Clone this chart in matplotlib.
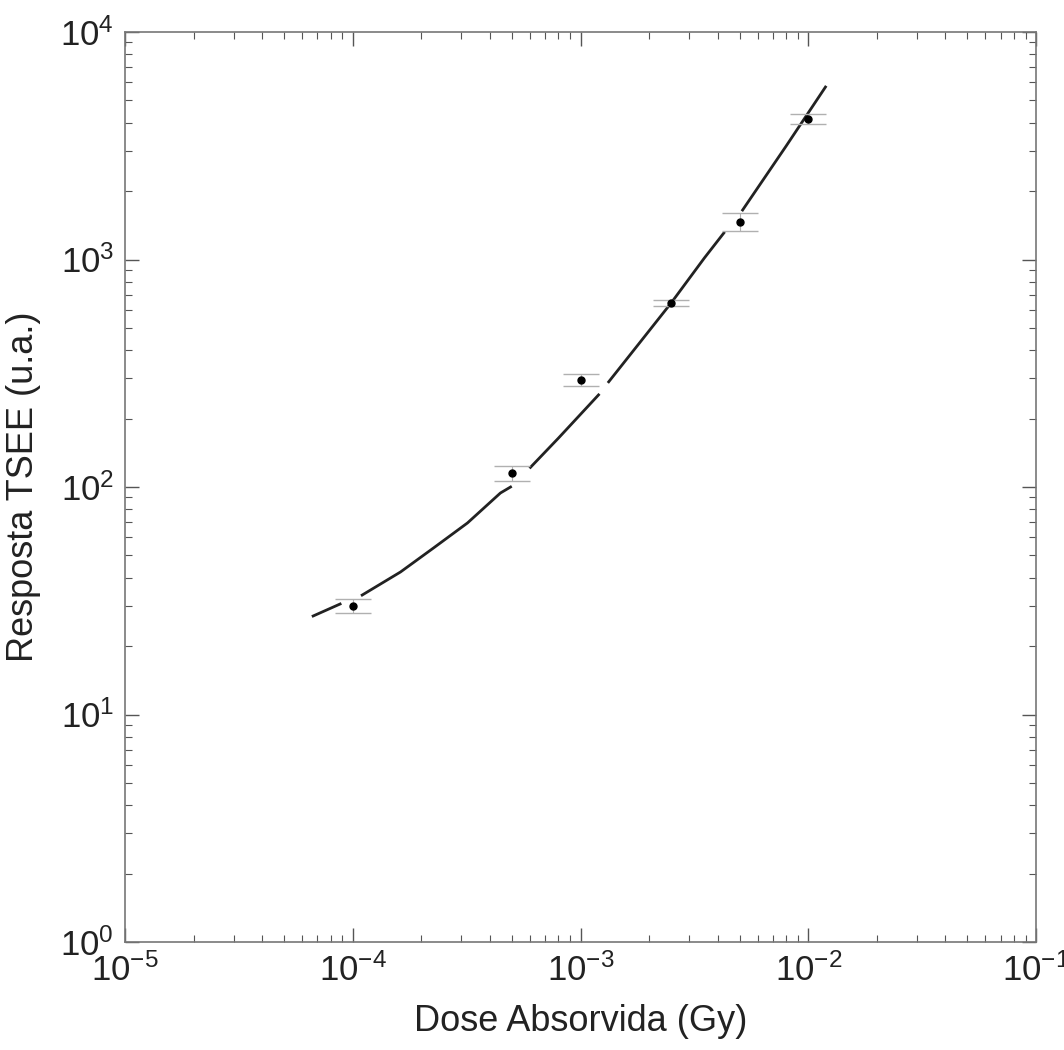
import numpy as np
import matplotlib
matplotlib.use("Agg")
import matplotlib.pyplot as plt
from matplotlib.ticker import FuncFormatter

plt.rcParams['font.family'] = ['Liberation Sans', 'DejaVu Sans']
plt.rcParams['mathtext.fontset'] = 'custom'
plt.rcParams['mathtext.rm'] = 'Liberation Sans'
plt.rcParams['mathtext.it'] = 'Liberation Sans'
plt.rcParams['mathtext.default'] = 'regular'

# measured data
dose = [1e-4, 5e-4, 1e-3, 2.5e-3, 5e-3, 1e-2]
resp = [30, 115, 295, 644, 1462, 4150]
resp_err = [2.1, 9.2, 17.7, 19, 132, 208]

# fit curve (NaN = gaps in the drawn line)
fit_x = [6.7e-5, 8.8e-5, np.nan, 1.10e-4, 1.62e-4, 2.26e-4, 3.19e-4, 4.45e-4, 4.93e-4, np.nan,
         6.03e-4, 8e-4, 1.2e-3, np.nan, 1.33e-3, 1.8e-3, 2.5e-3, 3.5e-3, 4.26e-3, np.nan,
         5.15e-3, 8e-3, 1.19e-2]
fit_y = [27.1, 30.6, np.nan, 33.5, 42.3, 53.9, 69.5, 94.1, 100, np.nan,
         122, 164, 254, np.nan, 290, 425, 644, 1016, 1308, np.nan,
         1650, 3155, 5730]

fig = plt.figure(figsize=(10.64, 10.5), dpi=100)
ax = fig.add_axes([125/1064, 1-942/1050, (1036-125)/1064, (942-32)/1050])

ax.plot(fit_x, fit_y, color='#222222', lw=2.0, zorder=2)
ax.errorbar(dose, resp, yerr=resp_err, fmt='o', color='black', ms=5,
            ecolor='#b0b0b0', elinewidth=0.8, capsize=13, capthick=1.0, zorder=3)

ax.set_xscale('log')
ax.set_yscale('log')
ax.set_xlim(1e-5, 1e-1)
ax.set_ylim(1, 1e4)

def fmt(v, pos):
    e = int(round(np.log10(v)))
    return r'$10^{%d}$' % e

ax.xaxis.set_major_formatter(FuncFormatter(fmt))
ax.yaxis.set_major_formatter(FuncFormatter(fmt))

ax.tick_params(which='both', direction='in', top=True, right=True, labelsize=25,
               colors='#555555', labelcolor='#222222')
ax.tick_params(which='major', length=10, width=1.0, pad=8)
ax.tick_params(which='minor', length=5, width=0.8)
for s in ax.spines.values():
    s.set_color('#777777')
    s.set_linewidth(1.2)

ax.set_xlabel('Dose Absorvida (Gy)', fontsize=26, color='#222222')
ax.set_ylabel('Resposta TSEE (u.a.)', fontsize=26, color='#222222')
ax.xaxis.set_label_coords(0.5, -0.068)
ax.yaxis.set_label_coords(-0.092, 0.5)

fig.savefig('out.png', dpi=100)
